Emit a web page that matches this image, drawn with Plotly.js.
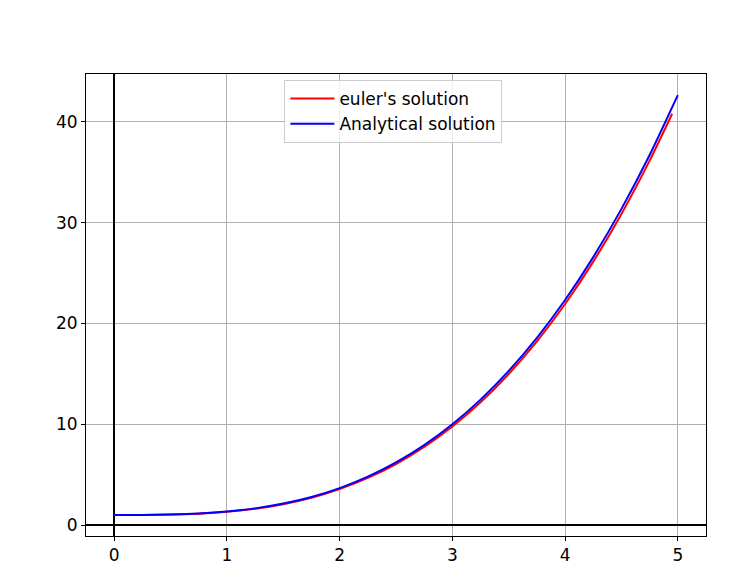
<!DOCTYPE html>
<html>
<head>
<meta charset="utf-8">
<script src="https://cdn.plot.ly/plotly-3.0.1.min.js"></script>
<style>html,body{margin:0;padding:0;background:#fff;}#chart{width:742px;height:580px;}</style>
</head>
<body>
<div id="chart"></div>
<script>
const eulerX = [0, 0.25, 0.5, 0.75, 1, 1.25, 1.5, 1.75, 2, 2.25, 2.5, 2.75, 3, 3.25, 3.5, 3.75, 4, 4.25, 4.5, 4.75, 4.95];
const eulerY = [1, 1.00375, 1.0356, 1.1269, 1.3088, 1.6125, 2.0694, 2.7106, 3.5675, 4.6713, 6.0531, 7.7444, 9.7763, 12.18, 14.987, 18.228, 21.935, 26.139, 30.871, 36.162, 40.819];
const analyticX = [0, 0.25, 0.5, 0.75, 1, 1.25, 1.5, 1.75, 2, 2.25, 2.5, 2.75, 3, 3.25, 3.5, 3.75, 4, 4.25, 4.5, 4.75, 5];
const analyticY = [1, 1.0052, 1.0417, 1.1406, 1.3333, 1.651, 2.125, 2.7865, 3.6667, 4.7969, 6.2083, 7.9323, 10, 12.4427, 15.2917, 18.5781, 22.3333, 26.5885, 31.375, 36.724, 42.6667];
const seriesNames = ["euler's solution", "Analytical solution"];

const traces = [
  {x: eulerX, y: eulerY, name: seriesNames[0], mode: 'lines', line: {color: '#ff0000', width: 2, shape: 'spline', smoothing: 0.6}},
  {x: analyticX, y: analyticY, name: seriesNames[1], mode: 'lines', line: {color: '#0000ff', width: 2, shape: 'spline', smoothing: 0.6}}
];
const axisCommon = {
  showline: true, mirror: true, linecolor: '#000', linewidth: 1,
  ticks: 'outside', ticklen: 4, tickcolor: '#000', tickwidth: 1,
  showgrid: true, gridcolor: '#b0b0b0', gridwidth: 1,
  zeroline: true, zerolinecolor: '#000', zerolinewidth: 2,
  tickfont: {family: 'DejaVu Sans', size: 17, color: '#000'}
};
const layout = {
  width: 742, height: 580,
  margin: {l: 86, r: 36, t: 74, b: 44},
  paper_bgcolor: '#fff', plot_bgcolor: '#fff',
  showlegend: true,
  legend: {x: 0.32, y: 0.987, xanchor: 'left', yanchor: 'top',
    bgcolor: 'rgba(255,255,255,0.8)', bordercolor: '#cccccc', borderwidth: 1,
    itemwidth: 44,
    font: {family: 'DejaVu Sans', size: 17, color: '#000'}},
  xaxis: Object.assign({}, axisCommon, {range: [-0.25, 5.25], dtick: 1, tick0: 0}),
  yaxis: Object.assign({}, axisCommon, {range: [-1.09, 44.76], dtick: 10, tick0: 0})
};
Plotly.newPlot('chart', traces, layout, {displayModeBar: false, staticPlot: true});
</script>
</body>
</html>
